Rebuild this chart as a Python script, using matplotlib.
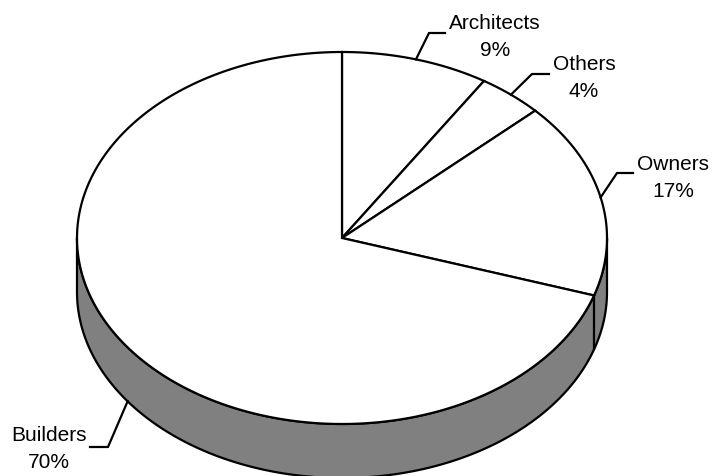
import numpy as np
import matplotlib
matplotlib.use("Agg")
import matplotlib.pyplot as plt
from matplotlib.patches import Polygon

plt.rcParams['font.family'] = ['Liberation Sans', 'DejaVu Sans']

# pie data (clockwise from 12 o'clock)
labels = ["Architects", "Others", "Owners", "Builders"]
values = [9, 4, 17, 70]

# ellipse geometry in pixel coords
cx, cy = 342, 238
a, b = 265, 186
depth = 54
side_color = "#808080"
lw = 1.6

# label text centre, elbow point and end of the leader line
label_pos = {
    "Architects": (495, 37, 429, 33, 445),
    "Others": (584, 78, 532, 74, 549),
    "Owners": (673, 178, 617, 173, 633),
    "Builders": (49, 449, 108, 447, 90),
}


def ell(t, dy=0):
    t = np.radians(t)
    return cx + a * np.cos(t), cy - b * np.sin(t) + dy


fig = plt.figure(figsize=(7.12, 4.76), dpi=100)
ax = fig.add_axes([0, 0, 1, 1])
ax.set_xlim(0, 712)
ax.set_ylim(476, 0)
ax.axis("off")

# side wall (front half of the cylinder)
t = np.linspace(180, 360, 200)
xt, yt = ell(t)
xb, yb = ell(t[::-1], depth)
side = Polygon(np.column_stack([np.r_[xt, xb], np.r_[yt, yb]]),
               closed=True, facecolor=side_color, edgecolor="black", lw=lw)
ax.add_patch(side)

# slice angles
total = sum(values)
angles = [90]
for v in values:
    angles.append(angles[-1] - v / total * 360)

# vertical edges where slice boundaries meet the front wall
for ang in angles:
    ang_n = ang % 360
    if 180 < ang_n < 360:
        x0, y0 = ell(ang_n)
        ax.plot([x0, x0], [y0, y0 + depth], color="black", lw=lw)

# top face wedges
for i, v in enumerate(values):
    t = np.linspace(angles[i], angles[i + 1], 200)
    x, y = ell(t)
    pts = np.column_stack([np.r_[cx, x], np.r_[cy, y]])
    ax.add_patch(Polygon(pts, closed=True, facecolor="white",
                         edgecolor="black", lw=lw, joinstyle="miter"))

# labels with leader lines
for i, name in enumerate(labels):
    mid = (angles[i] + angles[i + 1]) / 2
    mid_n = mid % 360
    dy = depth if 180 < mid_n < 360 else 0
    ax0, ay0 = ell(mid, dy)
    tx, ty, ex, ey, endx = label_pos[name]
    ax.plot([ax0, ex, endx], [ay0, ey, ey], color="black", lw=lw)
    ax.text(tx, ty, f"{name}\n{values[i]}%", ha="center", va="center",
            fontsize=15, linespacing=1.5)

fig.savefig("out.png", dpi=100)
